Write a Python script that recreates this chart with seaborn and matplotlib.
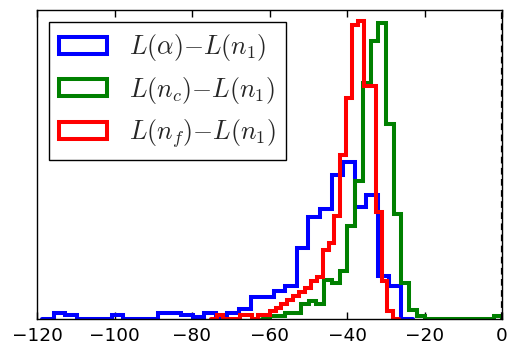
import numpy as np
import pandas as pd
import matplotlib
matplotlib.use("Agg")
import matplotlib.pyplot as plt
from matplotlib.patches import Patch
import seaborn as sns

# ---- data: per-series data range (min, max) and counts in 30 equal bins ----
alpha_range = (-115.7, -26.05)
alpha_counts = [3, 2, 0, 0, 0, 2, 0, 0, 0, 3, 3, 2, 1, 3, 0, 3, 5, 11, 11, 14,
                16, 35, 50, 54, 71, 77, 55, 61, 21, 16]

nc_range = (-59.87, 0.0)
nc_counts = [1, 1, 2, 2, 5, 6, 5, 13, 12, 16, 31, 46, 79, 93, 99, 65, 35, 12, 3, 1,
             0, 0, 0, 0, 0, 0, 0, 0, 0, 1]

nf_range = (-73.63, -28.05)
nf_counts = [1, 0, 0, 0, 1, 1, 0, 1, 1, 2, 3, 4, 5, 6, 7, 8, 10, 11, 18, 20,
             27, 43, 58, 77, 78, 61, 61, 28, 10, 2]

labels = [r'$L(\alpha){-}L(n_1)$', r'$L(n_c){-}L(n_1)$', r'$L(n_f){-}L(n_1)$']
colors = ['#0000ff', '#008000', '#ff0000']
xticks = [-120, -100, -80, -60, -40, -20, 0]

sns.set_style("white")
plt.rcParams['mathtext.fontset'] = 'cm'
plt.rcParams['font.family'] = ['DejaVu Sans']

fig = plt.figure(figsize=(5.17, 3.55), dpi=100)
ax = fig.add_axes([37 / 517, 1 - 319 / 355, 465 / 517, 309 / 355])

series = [(alpha_range, alpha_counts), (nc_range, nc_counts), (nf_range, nf_counts)]
for (rng, counts), col in zip(series, colors):
    n = len(counts)
    w = (rng[1] - rng[0]) / n
    centers = rng[0] + (np.arange(n) + 0.5) * w
    df = pd.DataFrame({"v": centers, "c": counts})
    sns.histplot(data=df, x="v", weights="c", bins=n + 2,
                 binrange=(rng[0] - w, rng[1] + w), stat="density",
                 element="step", fill=False, color=col, linewidth=2.9,
                 ax=ax, solid_joinstyle='miter')

ax.axvline(0, color='black', linestyle=(0, (3, 2)), linewidth=1.6, zorder=3)

ax.set_xlim(-120, 0)
ax.set_ylim(0, 0.098)
ax.set_xticks(xticks)
ax.set_yticks([])
ax.set_xlabel("")
ax.set_ylabel("")
ax.tick_params(axis='x', direction='in', top=True, bottom=True, length=5,
               width=1, labelsize=13.3, pad=6, color='black', labelcolor='black')
for s in ax.spines.values():
    s.set_color('black')
    s.set_linewidth(1.0)

handles = [Patch(facecolor='none', edgecolor=c, linewidth=2.9) for c in colors]
leg = ax.legend(handles, labels, loc='upper left', fontsize=18.6,
                frameon=True, fancybox=False, framealpha=1, edgecolor='black',
                borderaxespad=0.46, handlelength=1.86, handleheight=0.65,
                handletextpad=0.85, labelspacing=0.44, borderpad=0.4)
leg.get_frame().set_linewidth(1.0)

fig.savefig("out.png", dpi=100)
